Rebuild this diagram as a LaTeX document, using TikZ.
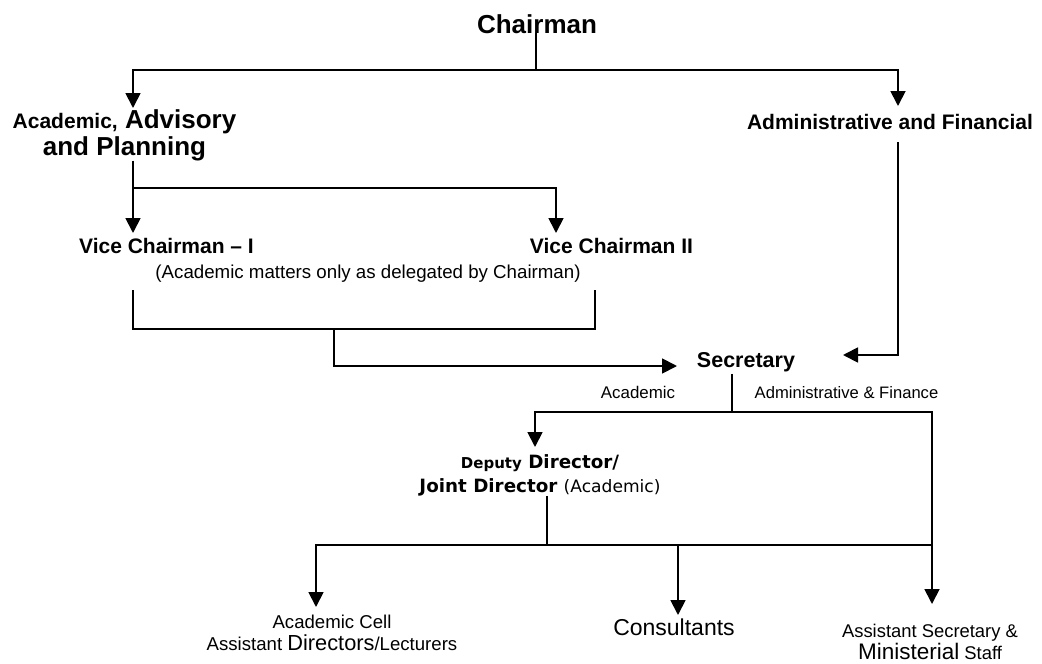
\documentclass[tikz,border=0pt]{standalone}
\usepackage{fontspec}
\setmainfont{Liberation Sans}
\newfontfamily\verdana{DejaVu Sans}
\usetikzlibrary{arrows.meta,calc}

\newcommand{\setfs}[2]{\fontsize{#1}{#2}\selectfont}

\begin{document}
\begin{tikzpicture}[x=1pt, y=-1pt,
    line/.style={line width=1.8pt},
    arr/.style={line, -{Triangle[width=15pt,length=15pt]}},
    lbl/.style={inner sep=0pt, anchor=base, align=center}]
    \useasboundingbox (0,0) rectangle (1042,664);

    % Chairman and the two wings
    \node[lbl, font=\bfseries\setfs{26}{27}] (chair) at (537,33) {Chairman};
    \node[lbl, font=\bfseries\setfs{26}{27}] (acad) at (124.5,155)
        {{\setfs{21}{27}Academic,} Advisory\\and Planning};
    \node[lbl, font=\bfseries\setfs{21}{24}] (adm) at (890,129) {Administrative and Financial};

    \coordinate (c bus) at (536,70);
    \coordinate (acad tip) at (133,108);
    \coordinate (adm tip) at (898,106);
    \draw[line] (chair.south -| c bus) -- (c bus);
    \draw[arr] (c bus) -| (acad tip);
    \draw[arr] (c bus) -| (adm tip);

    % Vice Chairmen
    \node[lbl, font=\bfseries\setfs{21}{24}] (vc1) at (166.5,253) {Vice Chairman \textendash{} I};
    \node[lbl, font=\bfseries\setfs{21}{24}] (vc2) at (611.5,253) {Vice Chairman II};
    \node[lbl, font=\setfs{18.7}{22}] (note) at (368,278) {(Academic matters only as delegated by Chairman)};

    \coordinate (a bus) at (133,188);
    \coordinate (vc1 tip) at (133,233);
    \coordinate (vc2 tip) at (556,233);
    \draw[line] (acad.south -| a bus) -- (a bus);
    \draw[arr] (a bus) -- (vc1 tip);
    \draw[arr] (a bus) -| (vc2 tip);

    % Vice Chairmen to Secretary
    \node[lbl, font=\bfseries\setfs{21.5}{24}] (sec) at (746,367) {Secretary};

    \coordinate (vc1 low) at (133,329);
    \coordinate (vc2 low) at (595,329);
    \coordinate (v mid) at (334,329);
    \coordinate (sec in) at (677,366);
    \draw[line, shorten <=8pt, shorten >=8pt] (note.south -| vc1 low) -- (vc1 low)
        -- (vc2 low) -- (note.south -| vc2 low);
    \draw[arr] (v mid) |- (sec in);

    \coordinate (adm turn) at (898,355);
    \coordinate (sec in2) at (843,355);
    \draw[arr, shorten <=13pt] (adm.south -| adm turn) -- (adm turn) -- (sec in2);

    % Secretary branches
    \node[lbl, font=\setfs{16.9}{20}] (lbl acad) at (638,398) {Academic};
    \node[lbl, font=\setfs{16.6}{20}] (lbl fin) at (846.5,398) {Administrative \& Finance};
    \node[lbl, font=\verdana\bfseries\setfs{18.3}{24}] (dd) at (540,492)
        {{\setfs{15}{24}Deputy} Director/\\Joint Director {\mdseries\setfs{17.1}{24}(Academic)}};

    \coordinate (s bus) at (732,412);
    \coordinate (dd tip) at (535,447);
    \coordinate (staff tip) at (932,604);
    \draw[line, shorten <=2pt] (sec.south -| s bus) -- (s bus);
    \draw[arr] (s bus) -| (dd tip);
    \draw[arr] (s bus) -| (staff tip);

    % Bottom row
    \node[lbl, font=\setfs{18.6}{22}] (cell) at (332,650)
        {Academic Cell\\Assistant {\setfs{21.8}{22}Directors}/Lecturers};
    \node[lbl, font=\setfs{23}{24}] (cons) at (674,635) {Consultants};
    \node[lbl, font=\setfs{18.4}{20}] (staff) at (930,659)
        {Assistant Secretary \&\\{\setfs{22.5}{20}Ministerial} Staff};

    \coordinate (d bus) at (547,545);
    \coordinate (cell tip) at (316,607);
    \coordinate (cons bus) at (678,545);
    \coordinate (cons tip) at (678,615);
    \draw[line] (dd.south -| d bus) -- (d bus);
    \draw[arr] (d bus) -| (cell tip);
    \draw[line] (d bus) -- (d bus -| staff tip);
    \draw[arr] (cons bus) -- (cons tip);
\end{tikzpicture}
\end{document}
